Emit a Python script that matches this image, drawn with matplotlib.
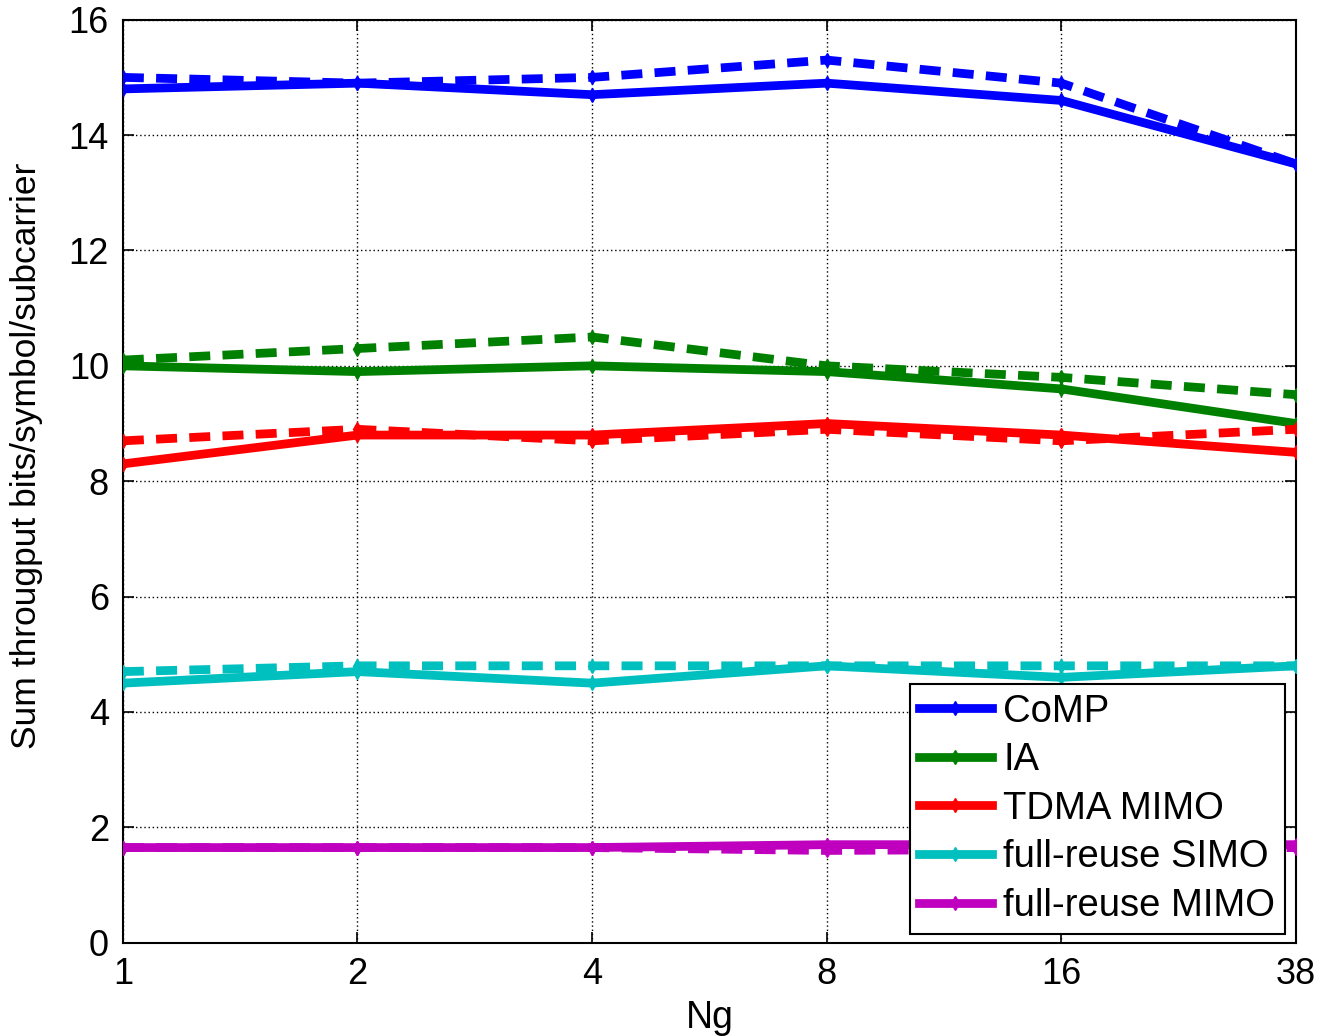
import matplotlib
matplotlib.use("Agg")
import matplotlib.pyplot as plt
from matplotlib.ticker import MultipleLocator

ng_labels = ["1", "2", "4", "8", "16", "38"]

comp_solid = [14.8, 14.9, 14.7, 14.9, 14.6, 13.5]
comp_dash = [15.0, 14.9, 15.0, 15.3, 14.9, 13.5]
ia_solid = [10.0, 9.9, 10.0, 9.9, 9.6, 9.0]
ia_dash = [10.1, 10.3, 10.5, 10.0, 9.8, 9.5]
tdma_solid = [8.3, 8.8, 8.8, 9.0, 8.8, 8.5]
tdma_dash = [8.7, 8.9, 8.7, 8.9, 8.7, 8.9]
simo_solid = [4.5, 4.7, 4.5, 4.8, 4.6, 4.8]
simo_dash = [4.7, 4.8, 4.8, 4.8, 4.8, 4.8]
mimo_solid = [1.65, 1.65, 1.65, 1.7, 1.7, 1.7]
mimo_dash = [1.65, 1.65, 1.65, 1.6, 1.62, 1.65]

names = ["CoMP", "IA", "TDMA MIMO", "full-reuse SIMO", "full-reuse MIMO"]
colors = ["#0000ff", "#008000", "#ff0000", "#00bfbf", "#bf00bf"]
solids = [comp_solid, ia_solid, tdma_solid, simo_solid, mimo_solid]
dashes = [comp_dash, ia_dash, tdma_dash, simo_dash, mimo_dash]

plt.rcParams['font.family'] = ['Liberation Sans', 'DejaVu Sans']

fig = plt.figure(figsize=(13.21, 10.36), dpi=100)
ax = fig.add_axes([0.093, 0.090, 0.888, 0.891])

x = list(range(len(ng_labels)))
handles = []
for name, c, s, d in zip(names, colors, solids, dashes):
    h, = ax.plot(x, s, color=c, lw=6.3, marker='d', ms=7, solid_joinstyle='miter', label=name, zorder=3)
    ax.plot(x, d, color=c, lw=6.3, ls=(0, (2.4, 1.4)), marker='d', ms=7, zorder=3)
    handles.append(h)

ax.set_xlim(0, 5)
ax.set_ylim(0, 16)
ax.yaxis.set_major_locator(MultipleLocator(2))
ax.set_xticks(x)
ax.set_xticklabels(ng_labels)
ax.grid(True, color='black', ls=(0, (1, 2)), lw=1.0)
ax.tick_params(labelsize=26, direction='in', length=8, width=1.2, top=True, right=True, pad=10)
for sp in ax.spines.values():
    sp.set_linewidth(1.5)

ax.set_xlabel("Ng", fontsize=27, labelpad=6)
ax.set_ylabel("Sum througput bits/symbol/subcarrier", fontsize=25.5)
ax.yaxis.set_label_coords(-0.068, 0.528)

leg = ax.legend(handles=handles, loc='lower right', bbox_to_anchor=(0.9905, 0.01),
                fontsize=27.5, handlelength=1.9, handletextpad=0.3, labelspacing=0.33,
                borderpad=0.25, borderaxespad=0.0, fancybox=False, framealpha=1,
                edgecolor='black')
leg.get_frame().set_linewidth(1.5)
leg.set_zorder(5)

fig.savefig("out.png", dpi=100)
